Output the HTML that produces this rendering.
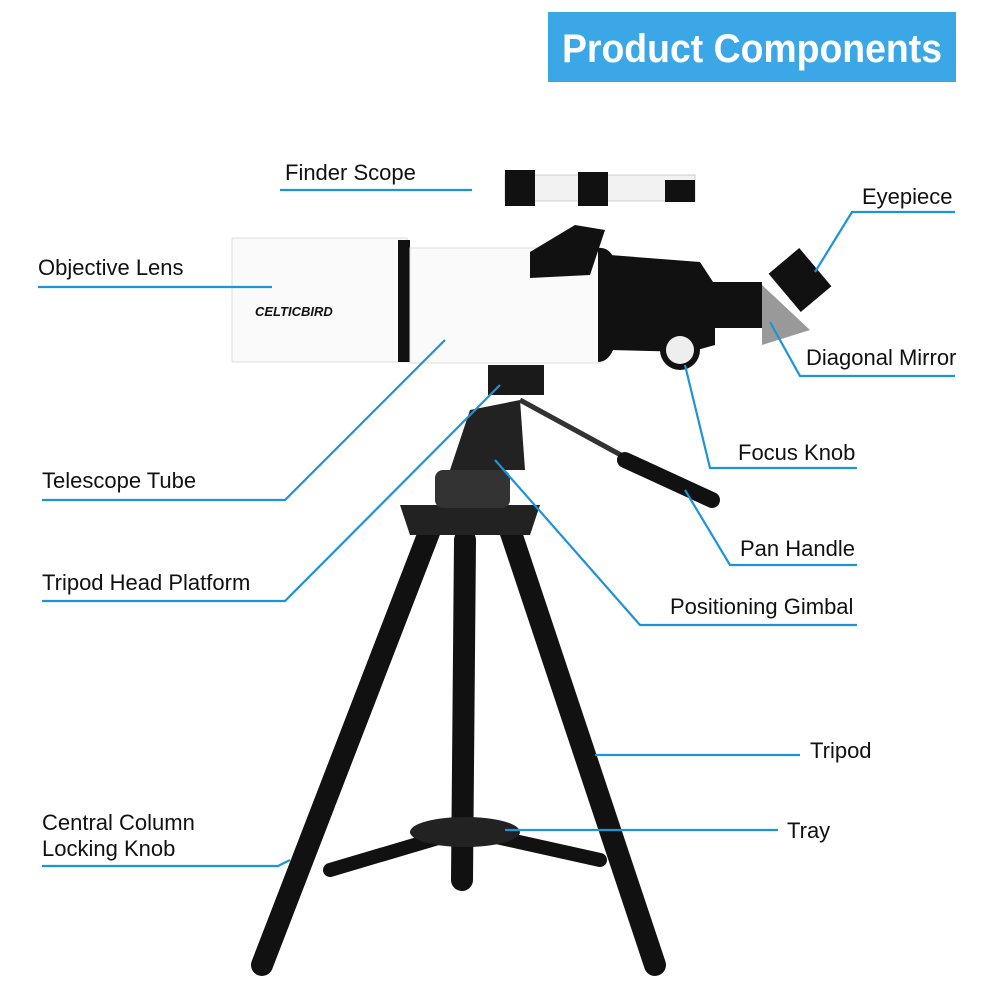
<!DOCTYPE html>
<html><head><style>
body{margin:0;background:#fff;}
svg{display:block}
text{font-family:"Liberation Sans",sans-serif;font-size:22px;fill:#111;}
</style></head><body>
<svg width="1000" height="1000" viewBox="0 0 1000 1000" xmlns="http://www.w3.org/2000/svg">
<rect x="548" y="12" width="408" height="70" fill="#3ba7e6"/>
<text x="752" y="62" text-anchor="middle" style="font-size:40px;font-weight:bold;fill:#fff;font-family:'Liberation Sans Narrow','Liberation Sans',sans-serif" textLength="380" lengthAdjust="spacingAndGlyphs">Product Components</text>

<!-- tripod legs -->
<g stroke="#111" stroke-linecap="round" fill="none">
<line x1="430" y1="530" x2="262" y2="965" stroke-width="22"/>
<line x1="510" y1="530" x2="655" y2="965" stroke-width="22"/>
<line x1="465" y1="540" x2="462" y2="880" stroke-width="22"/>
<line x1="330" y1="870" x2="465" y2="830" stroke-width="14"/>
<line x1="600" y1="860" x2="465" y2="830" stroke-width="14"/>
</g>
<ellipse cx="465" cy="832" rx="55" ry="15" fill="#222"/>
<path d="M400 505 L540 505 L530 535 L410 535 Z" fill="#222"/>
<rect x="435" y="470" width="75" height="38" rx="8" fill="#333"/>
<path d="M450 470 L470 410 L520 400 L525 470 Z" fill="#222"/>
<rect x="488" y="365" width="56" height="30" fill="#1a1a1a"/>
<line x1="520" y1="400" x2="630" y2="460" stroke="#333" stroke-width="5"/>
<line x1="625" y1="460" x2="712" y2="500" stroke="#111" stroke-width="16" stroke-linecap="round"/>

<!-- telescope tube -->
<rect x="232" y="238" width="175" height="124" fill="#fafafa" stroke="#ddd"/>
<rect x="398" y="240" width="12" height="122" fill="#111"/>
<rect x="410" y="248" width="190" height="115" fill="#fafafa" stroke="#ddd"/>
<path d="M598 248 Q620 245 620 300 Q620 362 598 362 Z" fill="#111"/>
<path d="M610 255 L700 262 L715 285 L715 345 L690 352 L610 350 Z" fill="#111"/>
<circle cx="680" cy="350" r="20" fill="#111"/><circle cx="680" cy="350" r="14" fill="#eee"/>
<rect x="712" y="282" width="50" height="46" fill="#111"/>
<path d="M762 285 L810 330 L762 345 Z" fill="#999"/>
<rect x="780" y="255" width="40" height="50" fill="#111" transform="rotate(-40 800 280)"/>
<!-- finder -->
<rect x="505" y="175" width="190" height="26" fill="#f2f2f2" stroke="#ccc"/>
<rect x="505" y="170" width="30" height="36" fill="#111"/>
<rect x="578" y="172" width="30" height="34" fill="#111"/>
<rect x="665" y="180" width="30" height="22" fill="#111"/>
<path d="M530 252 L575 225 L605 230 L590 275 L530 278 Z" fill="#111"/>
<text x="255" y="316" style="font-size:13px;font-weight:bold;font-style:italic">CELTICBIRD</text>

<!-- callout lines -->
<g stroke="#1e93d6" stroke-width="2.2" fill="none">
<polyline points="280,190 472,190"/>
<polyline points="955,212 852,212 815,272"/>
<polyline points="38,287 272,287"/>
<polyline points="955,376 800,376 770,322"/>
<polyline points="685,365 710,468 857,468"/>
<polyline points="445,340 285,500 42,500"/>
<polyline points="685,490 730,565 857,565"/>
<polyline points="500,385 285,601 42,601"/>
<polyline points="495,460 640,625 857,625"/>
<polyline points="595,755 800,755"/>
<polyline points="505,830 778,830"/>
<polyline points="290,860 278,866 42,866"/>
</g>

<text x="285" y="180">Finder Scope</text>
<text x="862" y="204">Eyepiece</text>
<text x="38" y="275">Objective Lens</text>
<text x="806" y="365">Diagonal Mirror</text>
<text x="738" y="460">Focus Knob</text>
<text x="42" y="488">Telescope Tube</text>
<text x="740" y="556">Pan Handle</text>
<text x="42" y="590">Tripod Head Platform</text>
<text x="670" y="614">Positioning Gimbal</text>
<text x="810" y="758">Tripod</text>
<text x="787" y="838">Tray</text>
<text x="42" y="830">Central Column</text>
<text x="42" y="856">Locking Knob</text>
</svg>
</body></html>
